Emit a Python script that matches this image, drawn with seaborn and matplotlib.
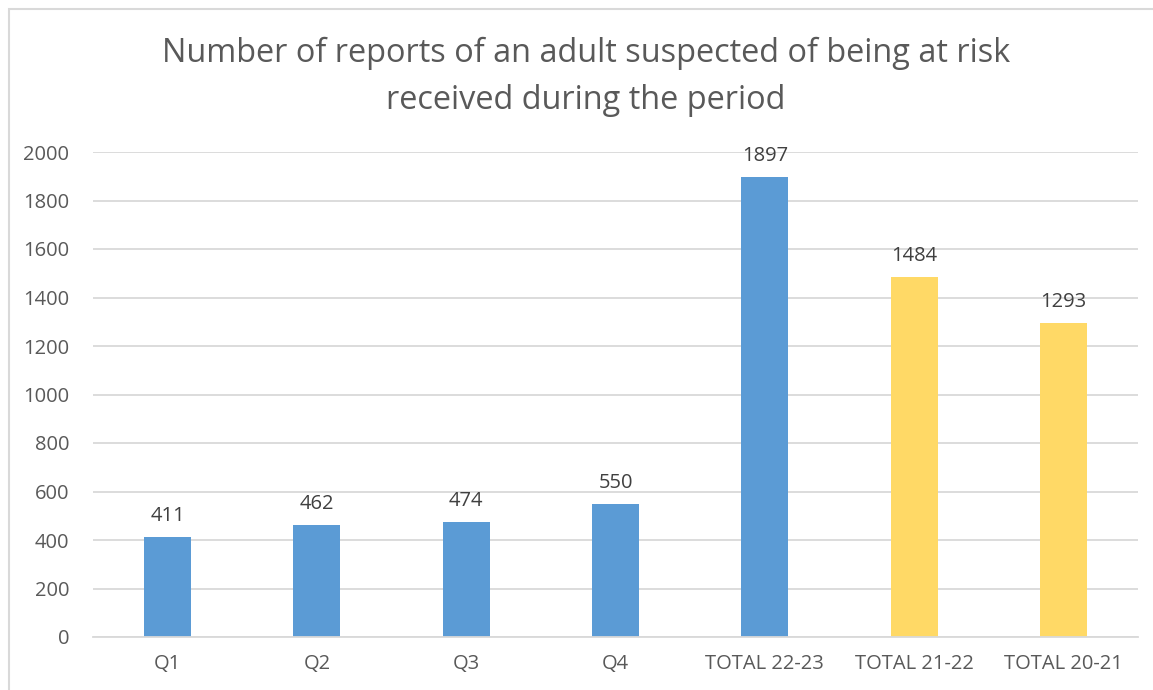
"""
Bar chart: reports of an adult suspected of being at risk.
"""

import matplotlib

matplotlib.use("Agg")

import matplotlib.pyplot as plt
import pandas as pd
import seaborn as sns
from matplotlib.patches import Rectangle

categories = ["Q1", "Q2", "Q3", "Q4", "TOTAL 22-23", "TOTAL 21-22", "TOTAL 20-21"]
reports = [411, 462, 474, 550, 1897, 1484, 1293]
period = ["current", "current", "current", "current", "current", "previous", "previous"]
y_ticks = [0, 200, 400, 600, 800, 1000, 1200, 1400, 1600, 1800, 2000]

TITLE = "Number of reports of an adult suspected of being at risk\nreceived during the period"
TEXT_COLOR = "#595959"
GRID_COLOR = "#d9d9d9"
PALETTE = {"current": "#5b9bd5", "previous": "#ffd966"}

sns.set_theme(style="white")
plt.rcParams["font.family"] = ["Open Sans", "DejaVu Sans"]

df = pd.DataFrame({"category": categories, "reports": reports, "period": period})

fig = plt.figure(figsize=(11.53, 6.90), dpi=100)
ax = fig.add_axes([93 / 1153, 1 - 637 / 690, (1138 - 93) / 1153, (637 - 152) / 690])

sns.barplot(
    data=df,
    x="category",
    y="reports",
    hue="period",
    palette=PALETTE,
    saturation=1,
    dodge=False,
    width=0.315,
    linewidth=0,
    legend=False,
    ax=ax,
)

for bar, value in zip(ax.patches, reports):
    ax.annotate(
        f"{value}",
        (bar.get_x() + bar.get_width() / 2, value),
        xytext=(0, 8),
        textcoords="offset points",
        ha="center",
        va="bottom",
        fontsize=14.5,
        color="#404040",
    )

ax.set_ylim(0, 2000)
ax.set_xlim(-0.5, len(categories) - 0.5)
ax.set_yticks(y_ticks)
ax.yaxis.grid(True, color=GRID_COLOR, linewidth=1.3)
ax.set_axisbelow(True)
ax.tick_params(axis="both", colors=TEXT_COLOR, labelsize=14.5, length=0)
ax.tick_params(axis="y", pad=17)
ax.tick_params(axis="x", pad=12)
ax.set_xlabel("")
ax.set_ylabel("")
for side in ["top", "right", "left"]:
    ax.spines[side].set_visible(False)
ax.spines["bottom"].set_color(GRID_COLOR)
ax.spines["bottom"].set_linewidth(1.3)

fig.text(0.508, 1 - 77 / 690, TITLE, ha="center", va="center", fontsize=23.4,
         color=TEXT_COLOR, linespacing=1.55)

# outer chart frame
fig.patches.append(Rectangle((9 / 1153, -0.1), 1.2, 1.1 - 9 / 690, transform=fig.transFigure,
                             fill=False, edgecolor=GRID_COLOR, linewidth=1.5))

fig.savefig("out.png", dpi=100)
plt.close(fig)
